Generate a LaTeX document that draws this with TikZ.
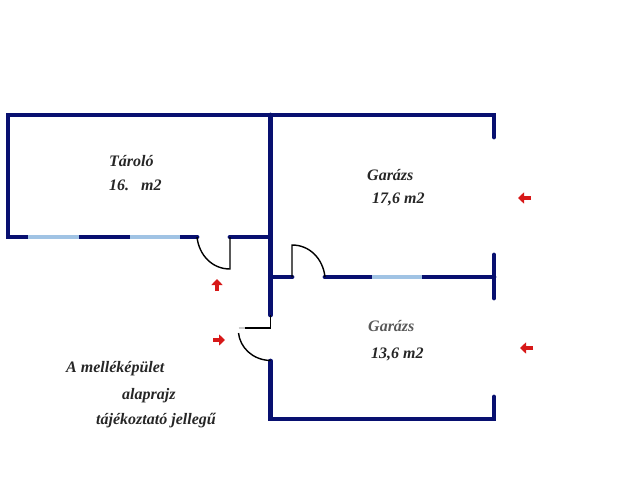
\documentclass[tikz,border=0pt]{standalone}
\usepackage{fontspec}
\setmainfont{Liberation Serif}
\usetikzlibrary{arrows.meta}
\definecolor{wallblue}{RGB}{8,16,112}
\definecolor{windowblue}{RGB}{160,195,228}
\definecolor{arrowred}{RGB}{215,24,24}
\tikzset{
  wall/.style={wallblue,line width=4.8pt,line cap=round,line join=miter},
  windowpane/.style={windowblue,line width=4.8pt},
  doorline/.style={black,line width=1.4pt},
  label/.style={anchor=base west,inner sep=0,font=\fontsize{16}{18}\selectfont\bfseries\itshape,text=black!85},
  redarrow/.style={arrowred,line width=3.4pt,-{Triangle[length=6pt,width=11pt]}}
}
\begin{document}
\begin{tikzpicture}[x=1pt,y=-1pt]
  \useasboundingbox (0,0) rectangle (640,480);
  % walls
  \draw[wall] (494,137) -- (494,115) -- (8,115) -- (8,237) -- (197,237);
  \draw[wall] (230,237) -- (270.5,237);
  \draw[wall] (270.5,115) -- (270.5,315);
  \draw[wall] (270.5,361) -- (270.5,419) -- (494,419) -- (494,397);
  \draw[wall] (270.5,277) -- (292,277);
  \draw[wall] (325,277) -- (494,277);
  \draw[wall] (494,255) -- (494,298);
  % windows
  \foreach \a/\b/\y in {28/79/237,130/180/237,372/422/277}{
    \draw[windowpane] (\a,\y) -- (\b,\y);
  }
  % doors
  \draw[doorline] (197,237) .. controls (199,255) and (212,269) .. (230,269) -- (230,237);
  \draw[doorline] (292,277) -- (292,245) .. controls (310,245) and (323,259) .. (325,277);
  \draw[doorline] (238.5,333) .. controls (240,347) and (252,360) .. (270.5,360.5);
  \draw[doorline] (245,328) -- (270.5,328) -- (270.5,315);
  \draw[black!20,line width=1.4pt] (238.5,328) -- (245,328);
  % arrows
  \foreach \n/\ax/\ay/\bx/\by in {up/217/291/217/279,right/213/340/225/340,gara/531/198/518/198,garb/533/348/520/348}{
    \coordinate (\n-from) at (\ax,\ay);
    \coordinate (\n-to) at (\bx,\by);
    \draw[redarrow] (\n-from) -- (\n-to);
  }
  % labels
  \node[label] (taroloname) at (109,166.5) {Tároló};
  \node[label] (taroloarea) at (109,190) {16.};
  \node[label] (taroloareaunit) at (141,190) {m2};
  \node[label] (garaname) at (367,180) {Garázs};
  \node[label] (garaarea) at (372,203) {17,6 m2};
  \node[label,text=black!65] (garbname) at (368,331) {Garázs};
  \node[label] (garbarea) at (371,358) {13,6 m2};
  \node[label] (noteone) at (66,372) {A melléképület};
  \node[label] (notetwo) at (122,399) {alaprajz};
  \node[label] (notethree) at (96,424) {tájékoztató jellegű};
\end{tikzpicture}
\end{document}
